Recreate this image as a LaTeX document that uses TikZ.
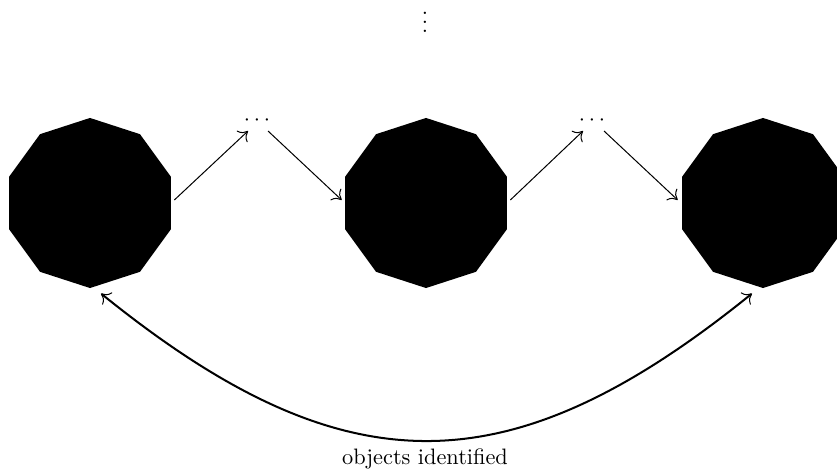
\documentclass[tikz,border=0pt]{standalone}
\usetikzlibrary{shapes.geometric,arrows.meta}
\tikzset{
  deca/.style={regular polygon, regular polygon sides=10, shape border rotate=18,
    minimum size=76.2pt, inner sep=0pt, fill=black, draw=none},
  dotsnode/.style={inner sep=0pt},
  arr/.style={line width=0.45pt, -{Computer Modern Rightarrow[length=3.8pt,width=7pt,line width=0.45pt]}},
  bothway/.style={line width=0.9pt, {Computer Modern Rightarrow[length=3.8pt,width=7pt,line width=0.45pt]}-{Computer Modern Rightarrow[length=3.8pt,width=7pt,line width=0.45pt]}}
}
\begin{document}
\begin{tikzpicture}[x=0.448pt, y=-0.448pt]
\useasboundingbox (0,0) rectangle (837,475);
\node[deca] (d1) at (90,203) {};
\node[deca] (d2) at (426,203) {};
\node[deca] (d3) at (763,203) {};
\node[dotsnode] (dl1) at (257,121) {$\cdots$};
\node[dotsnode] (dl2) at (592,121) {$\cdots$};
\node[dotsnode] (vd) at (425,16) {$\vdots$};
\node[dotsnode] (lab) at (425,459) {objects identified};
\draw[arr] ([shift={(3,-3)}]d1.east) -- ([shift={(-9,10)}]dl1.center);
\draw[arr] ([shift={(11,10)}]dl1.center) -- ([shift={(-3,-3)}]d2.west);
\draw[arr] ([shift={(3,-3)}]d2.east) -- ([shift={(-9,10)}]dl2.center);
\draw[arr] ([shift={(12,10)}]dl2.center) -- ([shift={(-4,-3)}]d3.west);
\draw[bothway] ([shift={(11,5)}]d1.south) .. controls (344,490) and (509,490) .. ([shift={(-11,5)}]d3.south);
\end{tikzpicture}
\end{document}
